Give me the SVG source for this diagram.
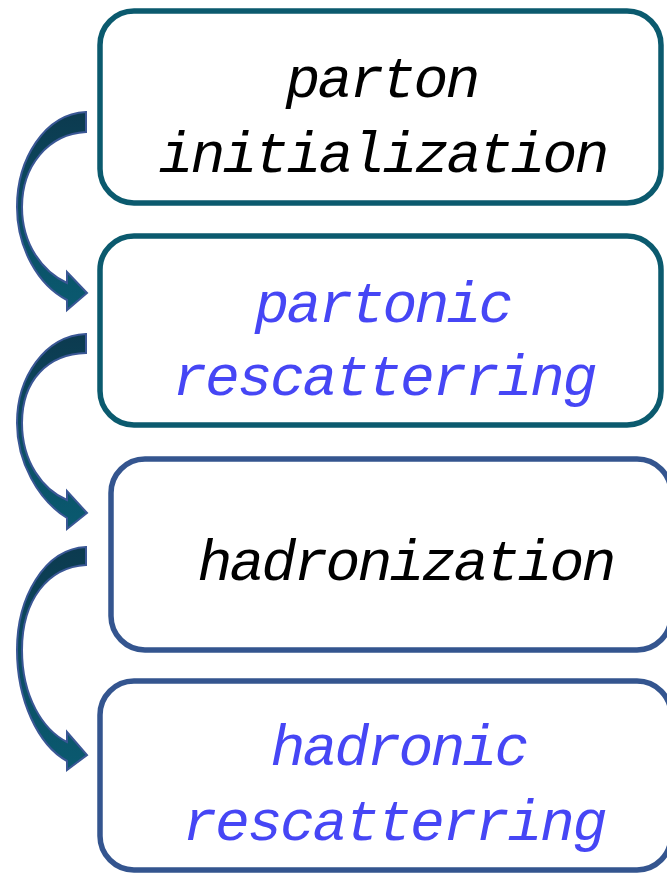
<svg xmlns="http://www.w3.org/2000/svg" width="667" height="874" viewBox="0 0 667 874">
<style>
.box{fill:#fff;stroke-width:5.5}
.teal{stroke:#0b5a6e}
.blue{stroke:#34558f}
.t{font-family:"Liberation Mono",monospace;font-style:italic;font-size:58px;text-anchor:middle}
.k{fill:#000}
.b{fill:#4646f5}
.arr{fill:url(#g);stroke:#3a5795;stroke-width:2;stroke-linejoin:miter}
</style>
<defs>
<linearGradient id="g" x1="0" y1="0" x2="0" y2="1">
<stop offset="0" stop-color="#0c3a4f"/>
<stop offset="0.5" stop-color="#0b4c62"/>
<stop offset="1" stop-color="#0a5a70"/>
</linearGradient>
</defs>
<g id="connectors">
<path class="arr" d="M86,112 C44,114 17,160 17,207 C17,248 38,285 67,300 L67,310 L87,293 L67,272 L67,283 C43,272 22,245 22,207 C22,166 48,134 86,132 Z"/>
<path class="arr" d="M86,334 C44,336 17,378 17,423 C17,462 38,500 67,518 L67,529 L87,513 L67,491 L67,500 C43,490 22,462 22,423 C22,380 48,354 86,353 Z"/>
<path class="arr" d="M86,547 C44,549 17,598 17,650 C17,700 38,745 67,761 L67,770 L87,755 L67,732 L67,742 C43,730 22,697 22,650 C22,600 48,567 86,565 Z"/>
</g>
<g id="node1">
<rect class="box teal" x="100" y="11" width="561" height="192" rx="34"/>
<text class="t k" x="303 335 367 399 431 463" y="97">parton</text>
<text class="t k" x="176 208 240 272 304 336 368 400 432 464 496 528 560 592" y="172">initialization</text>
</g>
<g id="node2">
<rect class="box teal" x="100" y="236" width="561" height="189" rx="34"/>
<text class="t b" x="272 304 336 368 400 432 464 496" y="322">partonic</text>
<text class="t b" x="190 222.5 255 287.5 320 352.5 385 417.5 450 482.5 515 547.5 580" y="395">rescatterring</text>
</g>
<g id="node3">
<rect class="box blue" x="111" y="459" width="560" height="191" rx="34"/>
<text class="t k" x="215 247 279 311 343 375 407 439 471 503 535 567 599" y="580">hadronization</text>
</g>
<g id="node4">
<rect class="box blue" x="100" y="681" width="571" height="189" rx="34"/>
<text class="t b" x="288 320 352 384 416 448 480 512" y="765">hadronic</text>
<text class="t b" x="200 232.5 265 297.5 330 362.5 395 427.5 460 492.5 525 557.5 590" y="840">rescatterring</text>
</g>
</svg>
